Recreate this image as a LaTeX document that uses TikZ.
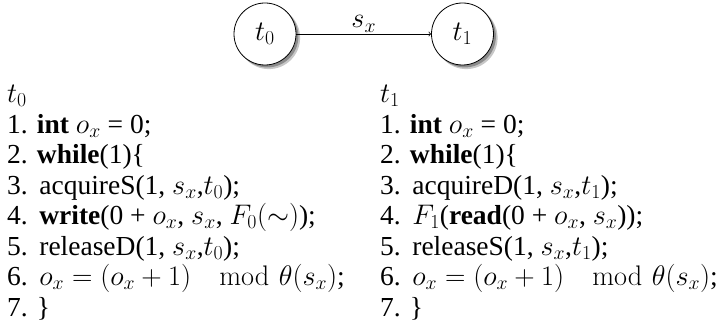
\RequirePackage{fix-cm}
\documentclass[tikz,border=0pt]{standalone}
\usepackage{amsmath}
\usepackage[no-math]{fontspec}
\setmainfont{Liberation Serif}
\DeclareMathSizes{27.5}{28.3}{19.8}{14.2}
\usetikzlibrary{backgrounds}
\newcommand{\ind}{\hspace{0.42em}}
\newcommand{\modop}{\mkern18mu\mathrm{mod}\,\,}
\begin{document}
\begin{tikzpicture}[x=1pt,y=-1pt,
  state/.style={circle,draw,line width=0.8pt,fill=white,minimum size=62pt,inner sep=0pt,
    font=\fontsize{27.5}{30}\selectfont},
  shade1/.style={fill=black!22},
  shade2/.style={fill=black!45},
  conn/.style={->,line width=0.8pt},
  code/.style={anchor=north west,align=left,inner sep=0pt,font=\fontsize{27.5}{30.5}\selectfont}]
\useasboundingbox (0,0) rectangle (723,326);
\node[state] (t0) at (265,34) {$t_0$};
\node[state] (t1) at (462.5,34) {$t_1$};
\begin{scope}[on background layer]
  \foreach \n in {t0,t1}{
    \fill[shade1] ([xshift=3.8pt,yshift=-3.8pt]\n.center) circle (31.3pt);
    \fill[shade2] ([xshift=2.4pt,yshift=-2.4pt]\n.center) circle (31pt);
  }
\end{scope}
\draw[conn] (t0) -- node[above=0.5pt,inner sep=1pt,font=\fontsize{27.5}{30}\selectfont] (lab) {$s_x$} (t1);
\node[code] (c0) at (7,85) {$t_0$\\
1. \textbf{int} $o_x$ = 0;\\
2. \textbf{while}(1)\{\\
3.\ind acquireS(1, $s_x$,$t_0$);\\
4.\ind \textbf{write}(0 + $o_x$, $s_x$, $F_0(\sim)$);\\
5.\ind releaseD(1, $s_x$,$t_0$);\\
6.\ind $o_x = (o_x+1) \modop \theta(s_x)$;\\
7. \}};
\node[code] (c1) at (380,85) {$t_1$\\
1. \textbf{int} $o_x$ = 0;\\
2. \textbf{while}(1)\{\\
3.\ind acquireD(1, $s_x$,$t_1$);\\
4.\ind $F_1$(\textbf{read}(0 + $o_x$, $s_x$));\\
5.\ind releaseS(1, $s_x$,$t_1$);\\
6.\ind $o_x = (o_x+1) \modop \theta(s_x)$;\\
7. \}};
\end{tikzpicture}
\end{document}
